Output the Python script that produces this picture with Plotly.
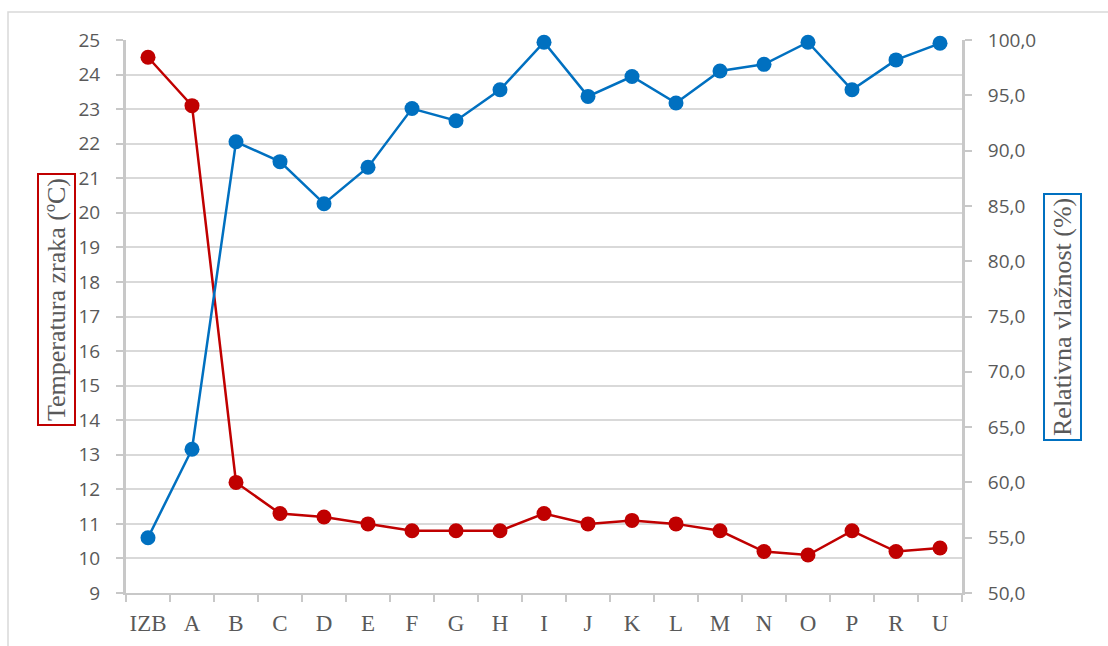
import plotly.graph_objects as go

tocke = ["IZB", "A", "B", "C", "D", "E", "F", "G", "H", "I", "J",
         "K", "L", "M", "N", "O", "P", "R", "U"]
temperatura = [24.5, 23.1, 12.2, 11.3, 11.2, 11.0, 10.8, 10.8, 10.8, 11.3,
               11.0, 11.1, 11.0, 10.8, 10.2, 10.1, 10.8, 10.2, 10.3]
vlaznost = [55.0, 63.0, 90.8, 89.0, 85.2, 88.5, 93.8, 92.7, 95.5, 99.8,
            94.9, 96.7, 94.3, 97.2, 97.8, 99.8, 95.5, 98.2, 99.7]

red = "#C00000"
blue = "#0070C0"
axis_gray = "#C8C8C8"
txt = "#595959"

fig = go.Figure()
fig.add_trace(go.Scatter(x=tocke, y=temperatura, mode="lines+markers",
                         line=dict(color=red, width=2.5),
                         marker=dict(color=red, size=15),
                         name="Temperatura zraka", cliponaxis=False))
fig.add_trace(go.Scatter(x=tocke, y=vlaznost, mode="lines+markers", yaxis="y2",
                         line=dict(color=blue, width=2.5),
                         marker=dict(color=blue, size=15),
                         name="Relativna vlažnost", cliponaxis=False))

fig.update_layout(
    width=1108, height=646,
    margin=dict(l=126, r=146, t=40, b=53, autoexpand=False),
    paper_bgcolor="white", plot_bgcolor="white",
    showlegend=False,
    separators=",.",
    xaxis=dict(type="category", range=[-0.5, len(tocke) - 0.5],
               showline=True, linecolor=axis_gray, linewidth=2,
               ticks="outside", tickson="boundaries", ticklen=7, tickcolor=axis_gray,
               tickwidth=2, showgrid=False, tickangle=0, automargin=False,
               ticklabelstandoff=8,
               tickfont=dict(family="Liberation Serif", size=23, color=txt)),
    yaxis=dict(range=[9, 25], dtick=1, showline=True, linecolor=axis_gray, linewidth=3,
               ticks="outside", ticklen=7, tickcolor=axis_gray, tickwidth=2,
               gridcolor="#D9D9D9", gridwidth=2, zeroline=False, automargin=False,
               ticklabelstandoff=12,
               tickfont=dict(family="Open Sans", size=19, color=txt)),
    yaxis2=dict(range=[50, 100], dtick=5, tickformat=".1f", overlaying="y", side="right",
                showline=True, linecolor=axis_gray, linewidth=3,
                ticks="outside", ticklen=7, tickcolor=axis_gray, tickwidth=2,
                showgrid=False, zeroline=False, automargin=False, ticklabelstandoff=12,
                tickfont=dict(family="Open Sans", size=19, color=txt)),
    annotations=[
        dict(text="Temperatura zraka (ºC)", textangle=-90, xref="paper", yref="paper",
             x=(56 - 126) / 836, y=1 - (300 - 40) / 553, showarrow=False,
             xanchor="center", yanchor="middle",
             font=dict(family="Liberation Serif", size=26, color=txt),
             bordercolor=red, borderwidth=2, borderpad=3, bgcolor="white"),
        dict(text="Relativna vlažnost (%)", textangle=-90, xref="paper", yref="paper",
             x=(1062 - 126) / 836, y=1 - (317 - 40) / 553, showarrow=False,
             xanchor="center", yanchor="middle",
             font=dict(family="Liberation Serif", size=26, color=txt),
             bordercolor=blue, borderwidth=2, borderpad=3, bgcolor="white"),
    ],
    shapes=[dict(type="rect", xref="paper", yref="paper",
                 x0=(8 - 126) / 836, x1=(1120 - 126) / 836,
                 y0=1 - (660 - 40) / 553, y1=1 - (12 - 40) / 553,
                 line=dict(color="#D9D9D9", width=1.5), layer="below")],
)

fig.write_html("out.html", config={"displayModeBar": False},
               post_script="document.body.style.margin='0';")
